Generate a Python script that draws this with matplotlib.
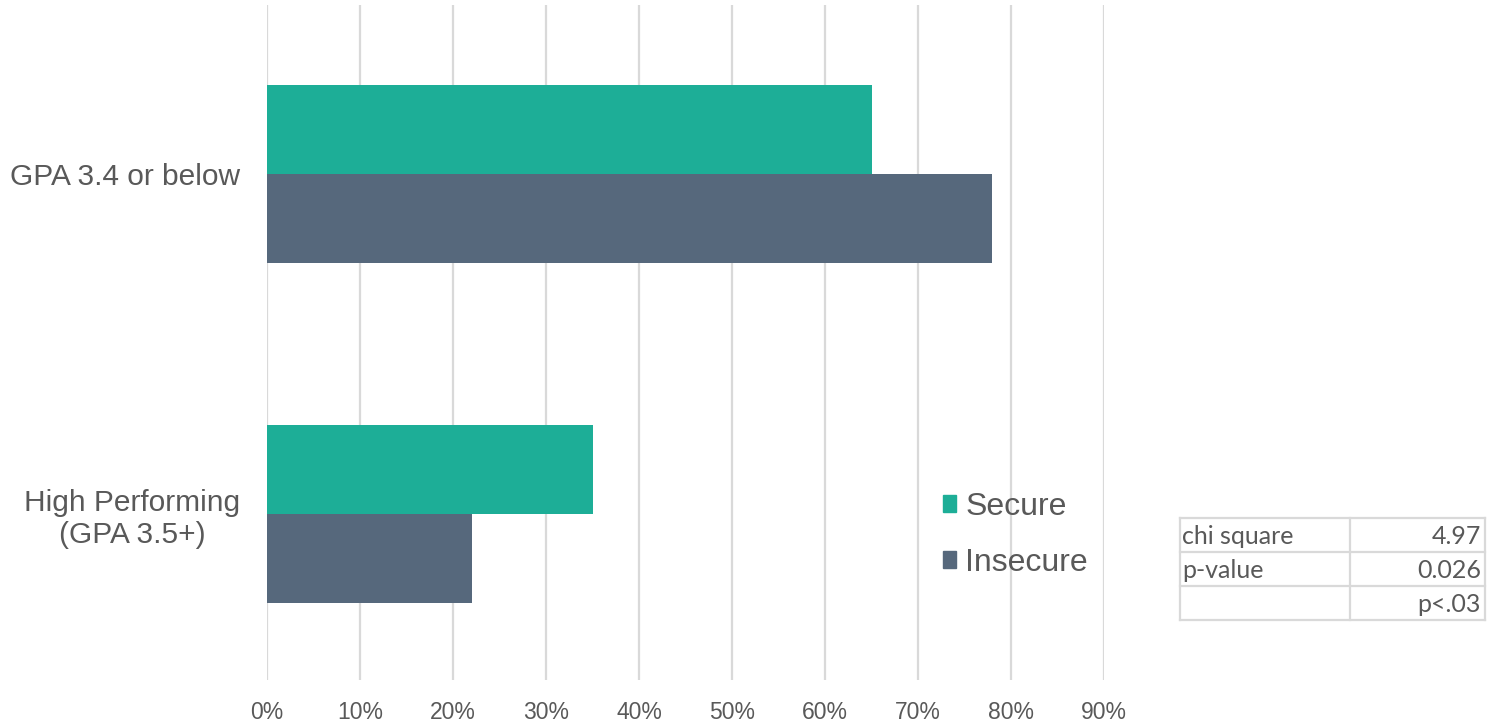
import matplotlib
matplotlib.use("Agg")
import matplotlib.pyplot as plt
from matplotlib.patches import Patch

categories = ["High Performing\n(GPA 3.5+)", "GPA 3.4 or below"]
secure = [35, 65]
insecure = [22, 78]
series_names = ["Secure", "Insecure"]
xticks = [0, 10, 20, 30, 40, 50, 60, 70, 80, 90]
xtick_labels = [f"{v}%" for v in xticks]
table_rows = [["chi square", "4.97"], ["p-value", "0.026"], ["", "p<.03"]]

C_SEC = "#1dae97"
C_INS = "#56687c"
TXT = "#595959"
GRID = "#d9d9d9"

plt.rcParams['font.family'] = ['Liberation Sans', 'DejaVu Sans']

fig = plt.figure(figsize=(14.88, 7.25), dpi=100)
W, H = 1488, 725
ax = fig.add_axes([267 / W, 1 - 680 / H, (1104 - 267) / W, (680 - 5) / H])

h = 0.262
ypos = list(range(len(categories)))
ax.barh([y + h / 2 for y in ypos], secure, height=h, color=C_SEC, zorder=3, label=series_names[0])
ax.barh([y - h / 2 for y in ypos], insecure, height=h, color=C_INS, zorder=3, label=series_names[1])

ax.set_xlim(0, 90)
ax.set_ylim(-0.488, 1.497)
ax.set_xticks(xticks)
ax.set_xticklabels(xtick_labels, fontsize=16.5, color=TXT)
ax.set_yticks(ypos)
ax.set_yticklabels(categories, fontsize=21.5, color=TXT)
for lbl in ax.get_yticklabels():
    lbl.set_multialignment('center')
ax.tick_params(axis='x', length=0, pad=15)
ax.tick_params(axis='y', length=0, pad=19)
for s in ax.spines.values():
    s.set_visible(False)
ax.grid(axis='x', color=GRID, linewidth=1.6, zorder=0)
ax.set_axisbelow(True)

handles = [Patch(color=C_SEC), Patch(color=C_INS)]
leg = fig.legend(handles, series_names, loc='center left',
                 bbox_to_anchor=(943 / W, 1 - 535 / H), frameon=False,
                 fontsize=23, handlelength=0.42, handleheight=0.42,
                 handletextpad=0.28, labelspacing=0.82, borderpad=0, borderaxespad=0)
for t in leg.get_texts():
    t.set_color(TXT)

# Table overlay
tax = fig.add_axes([0, 0, 1, 1])
tax.set_xlim(0, W)
tax.set_ylim(H, 0)
tax.axis('off')
x0, x1, x2 = 1180, 1350, 1485
y0 = 518
rh = 34
n = len(table_rows)
for i in range(n + 1):
    tax.plot([x0, x2], [y0 + i * rh, y0 + i * rh], color=GRID, lw=1.6)
for xx in (x0, x1, x2):
    tax.plot([xx, xx], [y0, y0 + n * rh], color=GRID, lw=1.6)
for i, (a, b) in enumerate(table_rows):
    yc = y0 + (i + 0.5) * rh + 2
    tax.text(x0 + 2, yc, a, fontsize=18, color=TXT, family=['Lato', 'DejaVu Sans'],
             ha='left', va='center')
    tax.text(x2 - 4, yc, b, fontsize=18, color=TXT, family=['Lato', 'DejaVu Sans'],
             ha='right', va='center')

fig.savefig("out.png", dpi=100)
